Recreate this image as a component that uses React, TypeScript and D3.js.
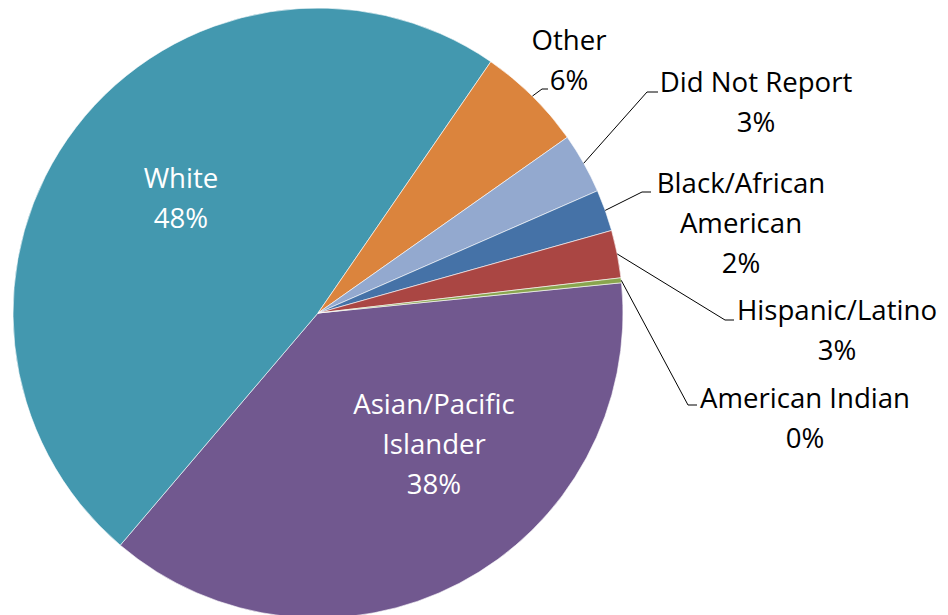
import React from "react";
import * as d3 from "d3";

// ---- data ----
const categories = [
  "Asian/Pacific Islander",
  "White",
  "Other",
  "Did Not Report",
  "Black/African American",
  "Hispanic/Latino",
  "American Indian",
];
const values = [37.8, 48.35, 5.64, 3.21, 2.2, 2.52, 0.26];
const labelLines = [
  ["Asian/Pacific", "Islander"],
  ["White"],
  ["Other"],
  ["Did Not Report"],
  ["Black/African", "American"],
  ["Hispanic/Latino"],
  ["American Indian"],
];
const colors = ["#71588F", "#4398AF", "#DB843D", "#93A9CF", "#4572A7", "#AA4643", "#89A54E"];

// ---- layout ----
const W = 948;
const H = 615;
const CX = 318;
const CY = 313;
const R = 305;
const START_DEG = 84.31;
const FONT = "'Open Sans', 'Liberation Sans', sans-serif";
const FS = 27.6;
const LH = 40;
// label anchor (centre x, first baseline y), inside or outside, elbow
const labelLayout = [
  { x: 434, y: 414, inside: true },
  { x: 181, y: 188, inside: true },
  { x: 569, y: 50, inside: false, elbow: [542, 89], end: [548, 89] },
  { x: 756, y: 92, inside: false, elbow: [647, 92], end: [658, 92] },
  { x: 741, y: 193, inside: false, elbow: [642, 192], end: [651, 192] },
  { x: 837, y: 320, inside: false, elbow: [725, 320], end: [734, 320] },
  { x: 805, y: 408, inside: false, elbow: [688, 405], end: [697, 405] },
];

export default function App() {
  const total = d3.sum(values);
  const a0 = (START_DEG * Math.PI) / 180;
  const pie = d3
    .pie<number>()
    .sort(null)
    .startAngle(a0)
    .endAngle(a0 + 2 * Math.PI);
  const arcs = pie(values);
  const arcGen = d3.arc<d3.PieArcDatum<number>>().innerRadius(0).outerRadius(R);

  return (
    <svg
      width={W}
      height={H}
      style={{ position: "absolute", left: 0, top: 0, background: "#fff" }}
      fontFamily={FONT}
    >
      <g transform={`translate(${CX},${CY})`}>
        {arcs.map((a, i) => (
          <path key={categories[i]} d={arcGen(a) || ""} fill={colors[i]} stroke="#fff" strokeWidth={0.6} />
        ))}
      </g>
      {arcs.map((a, i) => {
        const L = labelLayout[i];
        if (L.inside || !L.elbow) return null;
        const mid = (a.startAngle + a.endAngle) / 2;
        const sx = CX + R * Math.sin(mid);
        const sy = CY - R * Math.cos(mid);
        const pts = [
          [sx, sy],
          L.elbow,
          L.end,
        ];
        return (
          <polyline
            key={"l" + i}
            points={pts.map((p) => p.join(",")).join(" ")}
            fill="none"
            stroke="#000"
            strokeWidth={1}
          />
        );
      })}
      {arcs.map((a, i) => {
        const L = labelLayout[i];
        const pct = Math.round((values[i] / total) * 100) + "%";
        const lines = [...labelLines[i], pct];
        return (
          <text
            key={"t" + i}
            x={L.x}
            y={L.y}
            textAnchor="middle"
            fontSize={FS}
            fill={L.inside ? "#fff" : "#000"}
          >
            {lines.map((ln, j) => (
              <tspan key={j} x={L.x} y={L.y + j * LH}>
                {ln}
              </tspan>
            ))}
          </text>
        );
      })}
    </svg>
  );
}
